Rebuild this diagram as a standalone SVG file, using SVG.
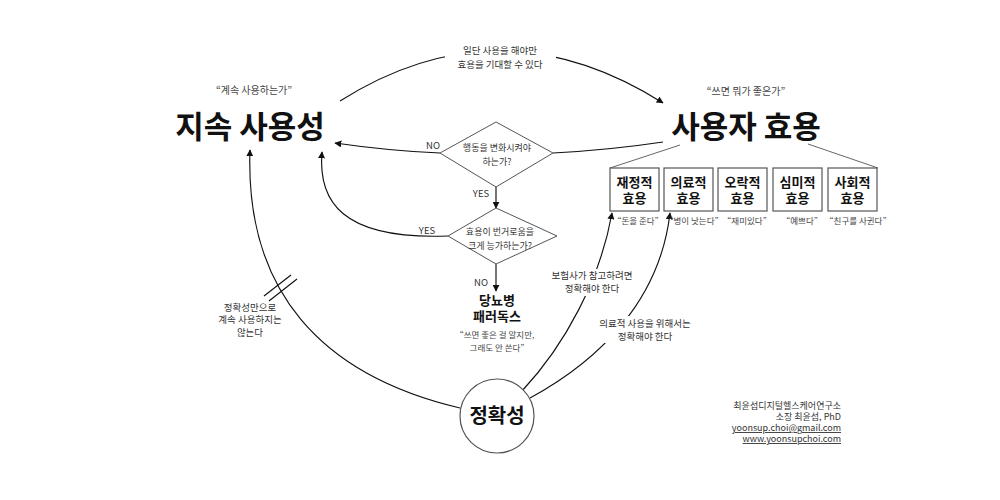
<svg xmlns="http://www.w3.org/2000/svg" width="1000" height="500" viewBox="0 0 1000 500">
<defs>
<style>
text{font-family:"Noto Sans CJK KR","Noto Sans",sans-serif;text-anchor:middle;fill:#222}
.title{font-size:31px;font-weight:700;fill:#111}
.sub{font-size:10px;fill:#444}
.lbl{font-size:9.5px;fill:#333}
.dl{font-size:9px;fill:#333}
.yn{font-size:9.5px;fill:#333}
.box{fill:#fff;stroke:#555;stroke-width:1.2}
.boxt{font-size:13px;font-weight:700;fill:#111}
.q{font-size:8.5px;fill:#444}
.dia{fill:#fff;stroke:#555;stroke-width:1}
.ln{fill:none;stroke:#111;stroke-width:1.15}
.thin{fill:none;stroke:#666;stroke-width:1}
.bg{fill:#fff}
.foot{font-size:9px;fill:#333;text-anchor:end}
</style>
<marker id="ah" viewBox="0 0 10 10" refX="9" refY="5" markerWidth="7" markerHeight="7" orient="auto" markerUnits="userSpaceOnUse">
<path d="M0,0 L10,5 L0,10 z" fill="#111"/>
</marker>
</defs>
<rect width="1000" height="500" fill="#fff"/>

<g id="connectors">
<path class="ln" d="M340,101 Q500,0 663,103" marker-end="url(#ah)"/>
<path class="ln" d="M440,153 Q390,151 335,143" marker-end="url(#ah)"/>
<path class="ln" d="M553,153 Q610,150 663,142"/>
<path class="ln" d="M496,187 L496,208" marker-end="url(#ah)"/>
<path class="ln" d="M448,236 C340,240 318,200 322,152" marker-end="url(#ah)"/>
<path class="ln" d="M496,264 L496,291" marker-end="url(#ah)"/>
<path class="ln" d="M460,408 C320,375 245,290 250,150" marker-end="url(#ah)"/>
<path class="ln" d="M522,391 C565,345 600,280 612,213" marker-end="url(#ah)"/>
<path class="ln" d="M530,398 C600,360 660,300 670,213" marker-end="url(#ah)"/>
<line class="thin" x1="680" y1="145" x2="610" y2="168"/>
<line class="thin" x1="808" y1="144" x2="878" y2="168"/>
<line class="ln" x1="264" y1="296" x2="291" y2="275"/>
<line class="ln" x1="269" y1="301" x2="297" y2="279"/>
</g>

<g id="label-top">
<rect class="bg" x="445" y="39" width="111" height="34"/>
<text class="lbl" x="500" y="54">일단 사용을 해야만</text>
<text class="lbl" x="500" y="68">효용을 기대할 수 있다</text>
</g>

<g id="node-sustain">
<text class="sub" x="254" y="94">“계속 사용하는가”</text>
<text class="title" x="250" y="138">지속 사용성</text>
</g>

<g id="node-utility">
<text class="sub" x="746" y="95">“쓰면 뭐가 좋은가”</text>
<text class="title" x="746" y="138">사용자 효용</text>
</g>

<g id="node-decision1">
<polygon class="dia" points="496,122 553,153 496,187 440,153"/>
<text class="dl" x="497" y="151">행동을 변화시켜야</text>
<text class="dl" x="497" y="165">하는가?</text>
<text class="yn" x="433" y="149">NO</text>
<text class="yn" x="481" y="197">YES</text>
</g>

<g id="node-decision2">
<polygon class="dia" points="496,208 557,236 496,264 448,236"/>
<text class="dl" x="500" y="235">효용이 번거로움을</text>
<text class="dl" x="500" y="249">크게 능가하는가?</text>
<text class="yn" x="427" y="234">YES</text>
<text class="yn" x="481" y="286">NO</text>
</g>

<g id="node-paradox">
<text class="boxt" x="497" y="305">당뇨병</text>
<text class="boxt" x="497" y="321">패러독스</text>
<text class="q" x="497" y="338">“쓰면 좋은 걸 알지만,</text>
<text class="q" x="497" y="351">그래도 안 쓴다”</text>
</g>

<g id="node-accuracy">
<circle cx="497" cy="416" r="37" fill="#fff" stroke="#555" stroke-width="1.2"/>
<text x="497" y="423" style="font-size:20px;font-weight:700;fill:#111">정확성</text>
</g>

<g id="label-left">
<text class="lbl" x="250" y="311">정확성만으로</text>
<text class="lbl" x="250" y="323">계속 사용하지는</text>
<text class="lbl" x="250" y="336">않는다</text>
</g>

<g id="label-insurer">
<rect class="bg" x="562" y="269" width="62" height="27"/>
<text class="lbl" x="592" y="279">보험사가 참고하려면</text>
<text class="lbl" x="592" y="292">정확해야 한다</text>
</g>

<g id="label-medical">
<rect class="bg" x="598" y="316" width="94" height="27"/>
<text class="lbl" x="645" y="327">의료적 사용을 위해서는</text>
<text class="lbl" x="645" y="340">정확해야 한다</text>
</g>

<g id="node-financial">
<rect class="box" x="610" y="168" width="49" height="43"/>
<text class="boxt" x="634.5" y="187">재정적</text>
<text class="boxt" x="634.5" y="203">효용</text>
<text class="q" x="638" y="224">“돈을 준다”</text>
</g>
<g id="node-medical">
<rect class="box" x="664" y="168" width="49" height="43"/>
<text class="boxt" x="688.5" y="187">의료적</text>
<text class="boxt" x="688.5" y="203">효용</text>
<text class="q" x="694" y="224">“병이 낫는다”</text>
</g>
<g id="node-fun">
<rect class="box" x="718" y="168" width="49" height="43"/>
<text class="boxt" x="742.5" y="187">오락적</text>
<text class="boxt" x="742.5" y="203">효용</text>
<text class="q" x="747" y="224">“재미있다”</text>
</g>
<g id="node-aesthetic">
<rect class="box" x="773" y="168" width="49" height="43"/>
<text class="boxt" x="797.5" y="187">심미적</text>
<text class="boxt" x="797.5" y="203">효용</text>
<text class="q" x="802" y="224">“예쁘다”</text>
</g>
<g id="node-social">
<rect class="box" x="828" y="168" width="49" height="43"/>
<text class="boxt" x="852.5" y="187">사회적</text>
<text class="boxt" x="852.5" y="203">효용</text>
<text class="q" x="858" y="224">“친구를 사귄다”</text>
</g>

<g id="footer">
<text class="foot" x="841" y="409">최윤섭디지털헬스케어연구소</text>
<text class="foot" x="841" y="420">소장 최윤섭, PhD</text>
<text class="foot" x="841" y="431" text-decoration="underline">yoonsup.choi@gmail.com</text>
<text class="foot" x="841" y="442" text-decoration="underline">www.yoonsupchoi.com</text>
</g>
</svg>
